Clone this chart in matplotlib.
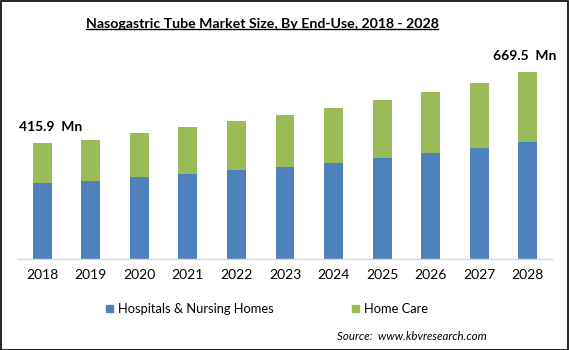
import matplotlib
matplotlib.use("Agg")
import matplotlib.pyplot as plt
from matplotlib.lines import Line2D
from matplotlib.patches import Rectangle

years = ["2018", "2019", "2020", "2021", "2022", "2023", "2024", "2025", "2026", "2027", "2028"]
hospitals = [272, 279, 293, 304, 318, 329, 343, 361, 379, 397, 418]
home_care = [143.9, 147, 158, 168, 175.5, 186, 197, 207.6, 218, 232, 251.5]
series_names = ["Hospitals & Nursing Homes", "Home Care"]
first_label = "415.9  Mn"
last_label = "669.5  Mn"

BLUE = "#4F81BD"
GREEN = "#9BBB59"
FONT = "Lato"

W, H = 569, 350
fig = plt.figure(figsize=(W / 100, H / 100), dpi=100)
ax = fig.add_axes([18 / W, (H - 259) / H, (552 - 18) / W, (259 - 60) / H])

x = list(range(len(years)))
ax.bar(x, hospitals, width=0.39, color=BLUE, label=series_names[0], zorder=2)
ax.bar(x, home_care, width=0.39, bottom=hospitals, color=GREEN, label=series_names[1], zorder=2)

ax.set_xlim(-0.5, len(years) - 0.5)
ax.set_ylim(0, 711.7)
ax.set_xticks(x)
ax.set_xticklabels(years, fontsize=10, family=FONT)
ax.tick_params(axis="x", length=0, pad=7)
ax.set_yticks([])
for s in ["top", "right", "left"]:
    ax.spines[s].set_visible(False)
ax.spines["bottom"].set_color("#D9D9D9")
ax.spines["bottom"].set_linewidth(1)

tot0 = hospitals[0] + home_care[0]
totn = hospitals[-1] + home_care[-1]
ax.annotate(first_label, (0, tot0), xytext=(6, 7), textcoords="offset points",
            ha="center", va="bottom", fontsize=10, fontweight="bold", family=FONT)
ax.annotate(last_label, (len(years) - 1, totn), xytext=(-2, 7), textcoords="offset points",
            ha="center", va="bottom", fontsize=10, fontweight="bold", family=FONT)

# Title with underline
title = fig.text(262 / W, 1 - 24 / H, "Nasogastric Tube Market Size, By End-Use, 2018 - 2028",
                 ha="center", va="center", fontsize=10.2, fontweight="bold", family=FONT)
fig.canvas.draw()
bb = title.get_window_extent(renderer=fig.canvas.get_renderer())
inv = fig.transFigure.inverted()
(x0, y0), (x1, y1) = inv.transform([(bb.x0, bb.y0), (bb.x1, bb.y1)])
fig.add_artist(Line2D([x0, x1], [y0 + 1 / H, y0 + 1 / H], transform=fig.transFigure,
                      color="black", linewidth=1))

# Legend
handles = [Rectangle((0, 0), 1, 1, color=BLUE), Rectangle((0, 0), 1, 1, color=GREEN)]
fig.legend(handles, series_names, loc="center", bbox_to_anchor=(267 / W, 1 - 309 / H),
           ncol=2, frameon=False, prop={"family": FONT, "size": 9.3},
           handlelength=0.55, handleheight=0.55, handletextpad=0.35, columnspacing=6.1,
           borderpad=0, borderaxespad=0)

fig.text(487 / W, 1 - 337 / H, "Source:  www.kbvresearch.com", ha="right", va="center",
         fontsize=8.3, style="italic", family=FONT)

fig.add_artist(Rectangle((0.5 / W, 0.5 / H), 1 - 1.5 / W, 1 - 1.5 / H, transform=fig.transFigure,
                         fill=False, edgecolor="black", linewidth=1.2))

fig.savefig("out.png", dpi=100)
